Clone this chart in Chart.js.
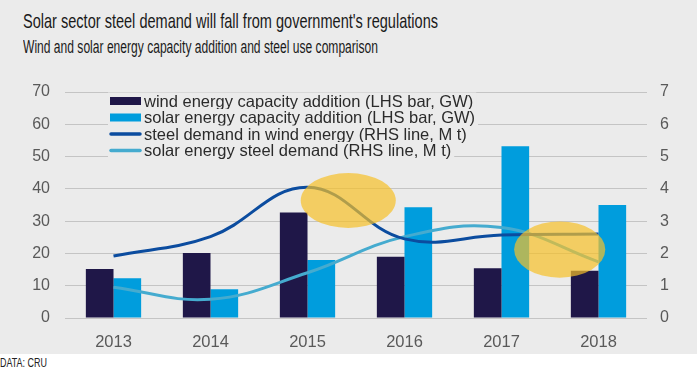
<!DOCTYPE html>
<html>
<head>
<meta charset="utf-8">
<script src="https://cdn.jsdelivr.net/npm/chart.js@4/dist/chart.umd.min.js"></script>
<style>
  body { margin: 0; background: #fff; width: 698px; height: 369px; overflow: hidden; font-family: "Liberation Sans", Arial, sans-serif; }
  #panel { position: absolute; left: 0; top: 0; width: 697px; height: 354px; background: #ebebeb; }
  .narrow { font-family: "Liberation Sans", Arial, sans-serif; position: absolute; white-space: nowrap; color: #1a1a1a; transform-origin: 0 0; }
  #title { left: 23px; top: 9px; font-size: 21px; }
  #subtitle { left: 23px; top: 37px; font-size: 17.5px; }
  #source { left: 0px; top: 355px; font-size: 13px; color: #222; }
  #wrap { position: absolute; left: 0; top: 80px; width: 698px; height: 274px; }
</style>
</head>
<body>
<div id="panel">
  <div id="title" class="narrow" data-w="415">Solar sector steel demand will fall from government's regulations</div>
  <div id="subtitle" class="narrow" data-w="355">Wind and solar energy capacity addition and steel use comparison</div>
  <div id="wrap"><canvas id="chart"></canvas></div>
</div>
<div id="source" class="narrow" data-w="47">DATA: CRU</div>
<script>
// chart values
const years = ['2013', '2014', '2015', '2016', '2017', '2018'];
const windCapacity = [15.2, 20.1, 32.7, 19.0, 15.4, 14.6];   // GW, LHS
const solarCapacity = [12.3, 8.9, 18.0, 34.3, 53.2, 35.0];  // GW, LHS
const windSteel = [1.92, 2.52, 4.05, 2.45, 2.57, 2.6];      // M t, RHS
const solarSteel = [0.95, 0.58, 1.4, 2.52, 2.8, 1.74];      // M t, RHS
const seriesNames = [
  'wind energy capacity addition (LHS bar, GW)',
  'solar energy capacity addition (LHS bar, GW)',
  'steel demand in wind energy (RHS line, M t)',
  'solar energy steel demand (RHS line, M t)'
];

// highlight ellipses, in axis units (category index, RHS value)
const highlightCenterX = [2.42, 4.6];
const highlightCenterY = [3.64, 2.12];
const highlightHalfW = [0.49, 0.47];
const highlightHalfH = [0.85, 0.87];

// headings are set in a narrow face: squeeze regular Liberation Sans to fit
document.querySelectorAll('.narrow').forEach(el => {
  const w = el.getBoundingClientRect().width;
  el.style.transform = 'scaleX(' + (el.dataset.w / w) + ')';
});

const tickFont = { family: 'Liberation Sans, Arial, sans-serif', size: 16 };
const tickColor = '#595959';

// legend drawn inside the plot, with its own background over the grid
const insideLegend = {
  id: 'insideLegend',
  beforeDatasetsDraw(chart) {
    const ctx = chart.ctx;
    const area = chart.chartArea;
    const x0 = area.left + 45;
    ctx.save();
    ctx.font = '16.5px "Liberation Sans", Arial, sans-serif';
    ctx.textBaseline = 'middle';
    chart.data.datasets.forEach((ds, i) => {
      const y = area.top + 9 + i * 16.5;
      const w = ctx.measureText(ds.label).width;
      ctx.fillStyle = '#ebebeb';
      ctx.fillRect(x0 - 2, y - 8.5, 39 + w, 17);
      if (ds.type === 'line') {
        ctx.strokeStyle = ds.borderColor;
        ctx.lineWidth = 3.5;
        ctx.lineCap = 'round';
        ctx.beginPath();
        ctx.moveTo(x0 + 1, y);
        ctx.lineTo(x0 + 30, y);
        ctx.stroke();
      } else {
        ctx.fillStyle = ds.backgroundColor;
        ctx.fillRect(x0, y - 4, 31, 8);
      }
      ctx.fillStyle = '#2b2b2b';
      ctx.fillText(ds.label, x0 + 34, y + 1);
    });
    ctx.restore();
  }
};

const highlights = {
  id: 'highlights',
  afterDatasetsDraw(chart) {
    const ctx = chart.ctx;
    const xs = chart.scales.x, ys = chart.scales.y2;
    ctx.save();
    ctx.fillStyle = 'rgba(247, 192, 40, 0.7)';
    highlightCenterX.forEach((cx, i) => {
      const px = xs.getPixelForValue(cx);
      const py = ys.getPixelForValue(highlightCenterY[i]);
      const rx = xs.getPixelForValue(cx + highlightHalfW[i]) - px;
      const ry = py - ys.getPixelForValue(highlightCenterY[i] + highlightHalfH[i]);
      ctx.beginPath();
      ctx.ellipse(px, py, rx, ry, 0, 0, Math.PI * 2);
      ctx.fill();
    });
    ctx.restore();
  }
};

function fixVertical(width) {
  return s => { s.width = width; s.paddingTop = 0; s.paddingBottom = 0; };
}

new Chart(document.getElementById('chart'), {
  data: {
    labels: years,
    datasets: [
      { type: 'bar', label: seriesNames[0], data: windCapacity, backgroundColor: '#1f1748', yAxisID: 'y', order: 2, categoryPercentage: 0.57, barPercentage: 1 },
      { type: 'bar', label: seriesNames[1], data: solarCapacity, backgroundColor: '#009ddd', yAxisID: 'y', order: 2, categoryPercentage: 0.57, barPercentage: 1 },
      { type: 'line', label: seriesNames[2], data: windSteel, borderColor: '#0b4c9f', borderWidth: 3, tension: 0.4, pointRadius: 0, yAxisID: 'y2', order: 1 },
      { type: 'line', label: seriesNames[3], data: solarSteel, borderColor: '#45abcf', borderWidth: 3, tension: 0.4, pointRadius: 0, yAxisID: 'y2', order: 1 }
    ]
  },
  options: {
    responsive: true,
    maintainAspectRatio: false,
    animation: false,
    layout: { padding: { top: 12, left: 0, right: 0, bottom: 0 } },
    plugins: { legend: { display: false }, tooltip: { enabled: false } },
    scales: {
      x: {
        grid: { display: false },
        border: { display: false },
        ticks: { color: tickColor, font: { family: tickFont.family, size: 16.5 }, padding: 7 },
        afterFit(s) { s.height = 36; }
      },
      y: {
        position: 'left',
        min: 0, max: 70,
        ticks: { stepSize: 10, color: tickColor, font: tickFont, padding: 15 },
        grid: { color: '#c4c4c4', drawTicks: false },
        border: { display: false },
        afterFit: fixVertical(65)
      },
      y2: {
        position: 'right',
        min: 0, max: 7,
        ticks: { stepSize: 1, color: tickColor, font: tickFont, padding: 13 },
        grid: { display: false, drawTicks: false },
        border: { display: false },
        afterFit: fixVertical(51)
      }
    }
  },
  plugins: [insideLegend, highlights]
});
</script>
</body>
</html>
